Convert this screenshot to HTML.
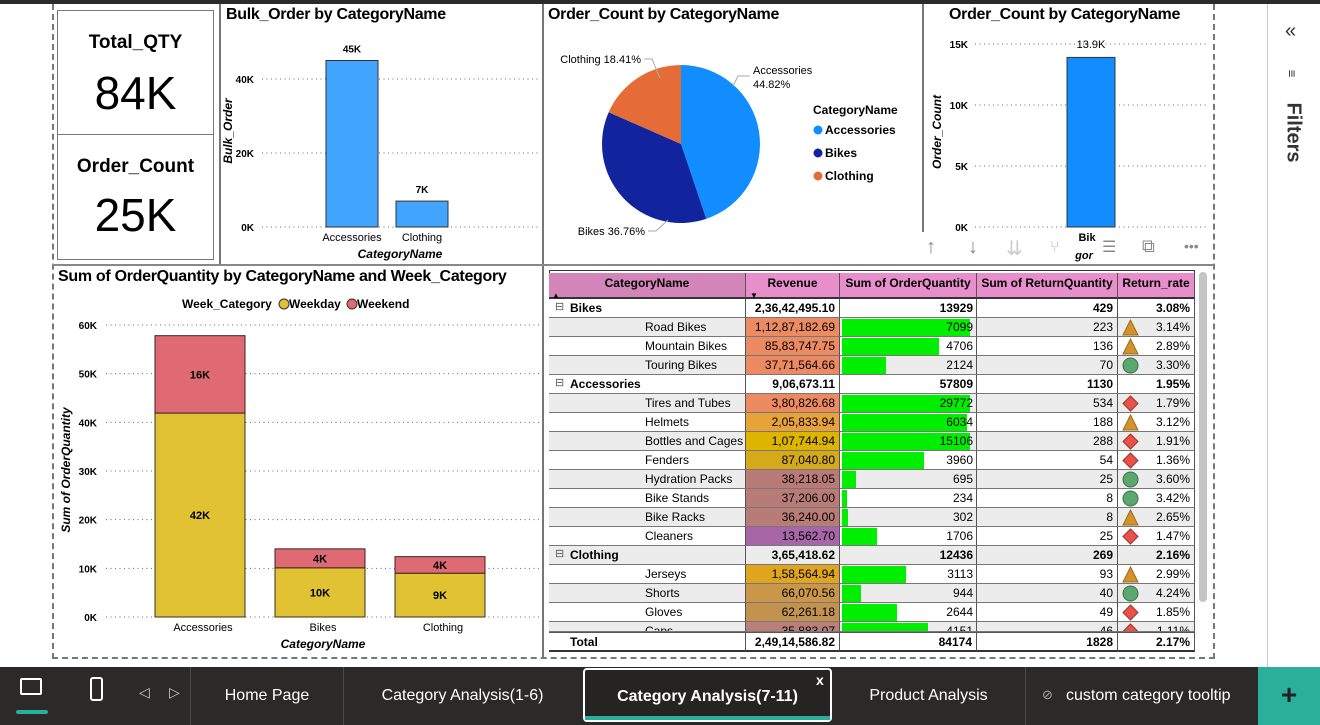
<!DOCTYPE html>
<html><head><meta charset="utf-8">
<style>
*{margin:0;padding:0;box-sizing:border-box}
body{width:1320px;height:725px;overflow:hidden;background:#fff;font-family:"Liberation Sans",sans-serif;position:relative;color:#000}
.abs{position:absolute}
.title{position:absolute;font-weight:bold;font-size:16px;letter-spacing:-0.3px;white-space:nowrap}
svg text{font-family:"Liberation Sans",sans-serif}
.tab{position:absolute;top:667px;height:58px;line-height:58px;color:#fff;font-size:16px;text-align:center;white-space:nowrap}
.sep{position:absolute;top:667px;width:1px;height:58px;background:#4a4a4a}
#tbl div{position:absolute;white-space:nowrap;font-size:12px;line-height:19px}
</style></head><body>
<div class="abs" style="left:0;top:0;width:1320px;height:4px;background:#2b2b2b"></div>
<div class="abs" style="left:52px;top:4px;width:1163px;height:655px;border:2px dashed #777;border-top:none"></div>
<div class="abs" style="left:1267px;top:4px;width:1px;height:663px;background:#c8c8c8"></div>
<div class="abs" style="left:1285px;top:20px;font-size:20px;color:#333">«</div>
<div class="abs" style="left:1288px;top:66px;font-size:13px;color:#333;transform:rotate(90deg)">≡</div>
<div class="abs" style="left:1268px;top:116px;width:50px;font-size:20px;font-weight:bold;color:#333;transform:rotate(90deg);transform-origin:center;text-align:center">Filters</div>

<div class="abs" style="left:57px;top:10px;width:157px;height:250px;border:1px solid #777"></div>
<div class="abs" style="left:57px;top:134px;width:157px;height:1px;background:#777"></div>
<div class="abs" style="left:57px;top:32px;width:157px;text-align:center;font-size:19px;font-weight:bold">Total_QTY</div>
<div class="abs" style="left:57px;top:66px;width:157px;text-align:center;font-size:46px">84K</div>
<div class="abs" style="left:57px;top:156px;width:157px;text-align:center;font-size:19px;font-weight:bold">Order_Count</div>
<div class="abs" style="left:57px;top:188px;width:157px;text-align:center;font-size:46px">25K</div>

<div class="abs" style="left:219px;top:4px;width:2px;height:262px;background:#777"></div>
<div class="abs" style="left:542px;top:4px;width:2px;height:654px;background:#777"></div>
<div class="abs" style="left:922px;top:4px;width:2px;height:228px;background:#777"></div>
<div class="abs" style="left:52px;top:264px;width:1162px;height:2px;background:#888"></div>

<div class="title" style="left:226px;top:6px">Bulk_Order by CategoryName</div>
<div class="title" style="left:548px;top:6px">Order_Count by CategoryName</div>
<div class="title" style="left:949px;top:6px">Order_Count by CategoryName</div>
<div class="title" style="left:58px;top:268px">Sum of OrderQuantity by CategoryName and Week_Category</div>

<svg class="abs" style="left:0;top:0" width="1320" height="667" id="svg"></svg>

<div class="abs" style="left:926px;top:236px;font-size:20px;color:#888;word-spacing:0">
<span class="abs" style="left:0">↑</span>
<span class="abs" style="left:42px">↓</span>
<span class="abs" style="left:80px;color:#ccc">⇊</span>
<span class="abs" style="left:124px;color:#bbb;font-size:16px;top:3px">⑂</span>
<span class="abs" style="left:176px;font-size:16px;top:1px">☰</span>
<span class="abs" style="left:216px;font-size:18px">⧉</span>
<span class="abs" style="left:258px;font-size:14px;top:2px">•••</span>
</div>

<div id="tbl" class="abs" style="left:0;top:0"></div>
<div class="abs" style="left:1199px;top:272px;width:8px;height:330px;background:#c4c4c4;border-radius:4px"></div>

<div class="abs" style="left:0;top:667px;width:1320px;height:58px;background:#2b2a29"></div>
<div class="abs" style="left:20px;top:678px;width:22px;height:17px;border:2px solid #fff;border-radius:2px"></div>
<div class="abs" style="left:16px;top:710px;width:32px;height:4px;background:#2ab09a;border-radius:2px"></div>
<div class="abs" style="left:90px;top:677px;width:13px;height:24px;border:2px solid #fff;border-radius:3px"></div>
<div class="abs" style="left:139px;top:684px;color:#ccc;font-size:14px">◁</div>
<div class="abs" style="left:169px;top:684px;color:#ccc;font-size:14px">▷</div>
<div class="sep" style="left:190px"></div>
<div class="tab" style="left:191px;width:152px">Home Page</div>
<div class="sep" style="left:343px"></div>
<div class="tab" style="left:344px;width:237px">Category Analysis(1-6)</div>
<div class="tab" style="left:583px;width:249px;height:54px;top:668px;line-height:54px;border:2px solid #fff;border-radius:4px;font-weight:bold;background:#252423">Category Analysis(7-11)</div>
<div class="abs" style="left:585px;top:716px;width:245px;height:4px;background:#2ab09a"></div>
<div class="abs" style="left:816px;top:672px;color:#fff;font-size:14px;font-weight:bold">x</div>
<div class="tab" style="left:832px;width:193px">Product Analysis</div>
<div class="sep" style="left:1025px"></div>
<div class="abs" style="left:1042px;top:687px;color:#aaa;font-size:13px">⊘</div>
<div class="tab" style="left:1066px;width:192px;text-align:left">custom category tooltip</div>
<div class="abs" style="left:1258px;top:667px;width:62px;height:58px;background:#2ab09a;color:#222;font-size:28px;font-weight:bold;text-align:center;line-height:56px">+</div>

<script>
const bulkCats = ["Accessories","Clothing"];
const bulkVals = [45,7];
const bulkLabels = ["45K","7K"];
const bulkTicks = [0,20,40];
const pieCats = ["Accessories","Bikes","Clothing"];
const pieShares = [44.82,36.76,18.41];
const pieColors = ["#118DFF","#12239E","#E66C37"];
const ocCats = ["Bikes"];
const ocVals = [13.9];
const ocLabels = ["13.9K"];
const ocTicks = [0,5,10,15];
const stCats = ["Accessories","Bikes","Clothing"];
const stWeekday = [41.9,10.1,9.0];
const stWeekend = [15.9,3.9,3.4];
const stWeekdayLbl = ["42K","10K","9K"];
const stWeekendLbl = ["16K","4K","4K"];
const stTicks = [0,10,20,30,40,50,60];
const tNames = ["Bikes","Road Bikes","Mountain Bikes","Touring Bikes","Accessories","Tires and Tubes","Helmets","Bottles and Cages","Fenders","Hydration Packs","Bike Stands","Bike Racks","Cleaners","Clothing","Jerseys","Shorts","Gloves","Caps"];
const tLevel = [0,1,1,1,0,1,1,1,1,1,1,1,1,0,1,1,1,1];
const tRevenue = ["2,36,42,495.10","1,12,87,182.69","85,83,747.75","37,71,564.66","9,06,673.11","3,80,826.68","2,05,833.94","1,07,744.94","87,040.80","38,218.05","37,206.00","36,240.00","13,562.70","3,65,418.62","1,58,564.94","66,070.56","62,261.18","35,883.07"];
const tRevColor = ["","#EC8A62","#EC8A62","#EC8A62","","#EC8A62","#E8A23A","#DDB400","#D4A91A","#B97B78","#B97B78","#B87C78","#A666A8","","#DFA51E","#C9964A","#C3924E","#B9807A"];
const tQty = [13929,7099,4706,2124,57809,29772,6034,15106,3960,695,234,302,1706,12436,3113,944,2644,4151];
const tRet = [429,223,136,70,1130,534,188,288,54,25,8,8,25,269,93,40,49,46];
const tRate = ["3.08%","3.14%","2.89%","3.30%","1.95%","1.79%","3.12%","1.91%","1.36%","3.60%","3.42%","2.65%","1.47%","2.16%","2.99%","4.24%","1.85%","1.11%"];
const tIcon = ["","tri","tri","cir","","dia","tri","dia","dia","cir","cir","tri","dia","","tri","cir","dia","dia"];
const tTotal = ["Total","2,49,14,586.82","84174","1828","2.17%"];

const NS="http://www.w3.org/2000/svg";
const svg=document.getElementById('svg');
function el(tag,attrs,parent){const e=document.createElementNS(NS,tag);for(const k in attrs)e.setAttribute(k,attrs[k]);(parent||svg).appendChild(e);return e;}
function txt(x,y,s,attrs){const t=el('text',Object.assign({x:x,y:y,'font-size':11},attrs||{}));t.textContent=s;return t;}
const GRID={stroke:'#666','stroke-dasharray':'1,3.5','stroke-width':1};

(function(){
  const y0=227,pxPerK=3.7,yS=v=>y0-v*pxPerK;
  bulkTicks.forEach(t=>{
    const g=el('line',Object.assign({x1:262,x2:540,y1:yS(t),y2:yS(t)},GRID));
    
    const l=txt(254,yS(t)+4,t+'K',{'text-anchor':'end','font-weight':'bold','font-size':10});
    
  });
  const xc=[352,422];
  bulkCats.forEach((c,i)=>{
    const b=el('rect',{x:xc[i]-26,y:yS(bulkVals[i]),width:52,height:bulkVals[i]*pxPerK,fill:'#41A4FF',stroke:'#333','stroke-width':1});
    
    const v=txt(xc[i],yS(bulkVals[i])-8,bulkLabels[i],{'text-anchor':'middle','font-weight':'bold','font-size':10});
    
    const l=txt(xc[i],241,c,{'text-anchor':'middle'});
    
  });
  const xt=txt(400,258,'CategoryName',{'text-anchor':'middle','font-weight':'bold','font-style':'italic','font-size':12});
  
  const yt=txt(0,0,'Bulk_Order',{'text-anchor':'middle','font-weight':'bold','font-style':'italic','font-size':12,transform:'translate(232,131) rotate(-90)'});
  
})();

(function(){
  const cx=681,cy=144,r=79;let a=0;const tot=pieShares.reduce((s,v)=>s+v,0);
  const pt=(ang,rr)=>[cx+rr*Math.sin(ang),cy-rr*Math.cos(ang)];
  pieShares.forEach((v,i)=>{
    const a1=a+v/tot*2*Math.PI;const p0=pt(a,r),p1=pt(a1,r);
    const s=el('path',{d:`M${cx},${cy} L${p0[0]},${p0[1]} A${r},${r} 0 ${a1-a>Math.PI?1:0} 1 ${p1[0]},${p1[1]} Z`,fill:pieColors[i]});
    
    a=a1;
  });
  // label layout: [textX, textY, anchor, leader points]
  const lblPos=[[753,74,'start','733,86 738,76 750,76'],[645,235,'end','668,220 656,231 648,231'],[641,63,'end','660,78 652,59 644,59']];
  pieCats.forEach((c,i)=>{
    const L=lblPos[i];
    const ln=el('polyline',{points:L[3],fill:'none',stroke:'#aaa'});
    
    let t;
    if(i===0){t=txt(L[0],L[1],c,{'font-size':11});const t2=txt(L[0],L[1]+14,pieShares[i].toFixed(2)+'%',{'font-size':11});}
    else t=txt(L[0],L[1],c+' '+pieShares[i].toFixed(2)+'%',{'font-size':11,'text-anchor':'end'});
    
  });
  const lt=txt(813,114,'CategoryName',{'font-size':12,'font-weight':'bold'});
  
  pieCats.forEach((c,i)=>{
    const d=el('circle',{cx:818,cy:130+i*23,r:4.5,fill:pieColors[i]});
    
    const t=txt(825,134+i*23,c,{'font-size':12,'font-weight':'bold'});
    
  });
})();

(function(){
  const y0=227,px=12.2,yS=v=>y0-v*px;
  ocTicks.forEach(t=>{
    const g=el('line',Object.assign({x1:975,x2:1206,y1:yS(t),y2:yS(t)},GRID));
    
    const l=txt(968,yS(t)+4,t+'K',{'text-anchor':'end','font-weight':'bold','font-size':10});
    
  });
  ocCats.forEach((c,i)=>{
    const b=el('rect',{x:1067,y:yS(ocVals[i]),width:48,height:ocVals[i]*px,fill:'#118DFF',stroke:'#333'});
    
    const v=txt(1091,48,ocLabels[i],{'text-anchor':'middle','font-size':11});
    
    const l=txt(1087,241,c.slice(0,3),{'text-anchor':'middle','font-size':11,'font-weight':'bold'});
    
  });
  const g2=txt(1084,259,'gor',{'text-anchor':'middle','font-size':11,'font-weight':'bold','font-style':'italic'});
  
  const yt=txt(0,0,'Order_Count',{'text-anchor':'middle','font-weight':'bold','font-style':'italic','font-size':12,transform:'translate(941,132) rotate(-90)'});
  
})();

(function(){
  const y0=617,px=4.867,yS=v=>y0-v*px;
  stTicks.forEach(t=>{
    const g=el('line',Object.assign({x1:106,x2:540,y1:yS(t),y2:yS(t)},GRID));
    
    const l=txt(97,yS(t)+4,t+'K',{'text-anchor':'end','font-weight':'bold','font-size':10});
    
  });
  stCats.forEach((c,i)=>{
    const xc=200+i*120;
    const wd=el('rect',{x:xc-45,y:yS(stWeekday[i]),width:90,height:stWeekday[i]*px,fill:'#E0C232',stroke:'#3a3020','stroke-width':1});
    
    const we=el('rect',{x:xc-45,y:yS(stWeekday[i]+stWeekend[i]),width:90,height:stWeekend[i]*px,fill:'#DF6A73',stroke:'#3a2020','stroke-width':1});
    
    const l1=txt(xc,yS(stWeekday[i]/2)+4,stWeekdayLbl[i],{'text-anchor':'middle','font-weight':'bold','font-size':11});
    
    const l2=txt(xc,yS(stWeekday[i]+stWeekend[i]/2)+4,stWeekendLbl[i],{'text-anchor':'middle','font-weight':'bold','font-size':11});
    
    const xl=txt(xc+3,631,c,{'text-anchor':'middle','font-size':11});
    
  });
  const xt=txt(323,648,'CategoryName',{'text-anchor':'middle','font-weight':'bold','font-style':'italic','font-size':12});
  
  const yt=txt(0,0,'Sum of OrderQuantity',{'text-anchor':'middle','font-weight':'bold','font-style':'italic','font-size':12,transform:'translate(70,470) rotate(-90)'});
  
  const lg=txt(182,308,'Week_Category',{'font-size':12,'font-weight':'bold'});
  
  [['Weekday','#E0C232',284],['Weekend','#DF6A73',352]].forEach(e=>{
    const c=el('circle',{cx:e[2],cy:304,r:5,fill:e[1],stroke:'#333'});
    
    const t=txt(e[2]+5,308,e[0],{'font-size':12,'font-weight':'bold'});
    
  });
})();

(function(){
  const T=document.getElementById('tbl');
  const cols=[549,746,840,977,1118,1195];
  const top=273,hh=26,rh=19;
  function d(css,html,name,inter){const e=document.createElement('div');e.style.cssText=css;e.innerHTML=html;
    
    
    T.appendChild(e);return e;}
  d(`left:${cols[0]}px;top:${top-3}px;width:${cols[5]-cols[0]}px;height:${652-top+3}px;border:1px solid #333;background:#fff`,'','table-frame',false);
  const heads=["CategoryName","Revenue","Sum of OrderQuantity","Sum of ReturnQuantity","Return_rate"];
  heads.forEach((h,i)=>{
    d(`left:${cols[i]}px;top:${top}px;width:${cols[i+1]-cols[i]}px;height:${hh}px;background:${i==0?'#D384B8':'#E88FCB'};border-right:1px solid #555;border-bottom:2px solid #333;text-align:center;font-weight:bold;line-height:20px;font-size:12px`,h,'column-header-'+h.toLowerCase().replace(/[^a-z]+/g,'-'),true);
  });
  d(`left:552px;top:${top+13}px;font-size:8px`,'▲','sort-indicator',false);
  d(`left:750px;top:${top+13}px;font-size:8px`,'▼','sort-indicator',false);
  const y1=top+hh;
  tNames.forEach((n,r)=>{
    const y=y1+r*rh;const h=Math.min(rh,632-y);if(h<=0)return;
    const bg=r%2?'#ECECEC':'#fff';const b=tLevel[r]==0;const fw=b?'bold':'normal';
    const rowcss=`top:${y}px;height:${h}px;overflow:hidden;border-bottom:1px solid #777;border-right:1px solid #555;font-weight:${fw};`;
    d(`left:${cols[0]}px;width:${cols[1]-cols[0]}px;${rowcss}background:${bg};padding-left:${b?21:96}px`,(b?'<span style="position:absolute;left:6px;top:-1px;font-weight:normal;color:#555;font-size:11px">⊟</span>':'')+n,'row-label-'+n.toLowerCase().replace(/ /g,'-'),b);
    d(`left:${cols[1]}px;width:${cols[2]-cols[1]}px;${rowcss}background:${tRevColor[r]||bg};text-align:right;padding-right:4px`,tRevenue[r],'revenue-cell',false);
    const qc=d(`left:${cols[2]}px;width:${cols[3]-cols[2]}px;${rowcss}background:${bg};text-align:right;padding-right:3px`,'','order-qty-cell',false);
    if(!b){const w=Math.min(tQty[r]/6200,1)*128;const bar=document.createElement('div');
      bar.style.cssText=`left:2px;top:1px;height:17px;width:${w}px;background:#00EE00`;
      
      
      qc.appendChild(bar);}
    const sp=document.createElement('span');sp.style.cssText='position:relative';sp.textContent=tQty[r];qc.appendChild(sp);
    d(`left:${cols[3]}px;width:${cols[4]-cols[3]}px;${rowcss}background:${bg};text-align:right;padding-right:4px`,tRet[r],'return-qty-cell',false);
    let ic='';
    if(tIcon[r]=='tri')ic='<svg style="position:absolute;left:4px;top:1px" width="17" height="17"><polygon points="8.5,1 16,16 1,16" fill="#D4922A" stroke="#9a6a20"/></svg>';
    if(tIcon[r]=='cir')ic='<svg style="position:absolute;left:4px;top:1px" width="17" height="17"><circle cx="8.5" cy="8.5" r="7.5" fill="#5BA86E" stroke="#3c6e48"/></svg>';
    if(tIcon[r]=='dia')ic='<svg style="position:absolute;left:4px;top:1px" width="17" height="17"><polygon points="8.5,1 16,8.5 8.5,16 1,8.5" fill="#E8524A" stroke="#a03028"/></svg>';
    d(`left:${cols[4]}px;width:${cols[5]-cols[4]}px;${rowcss}background:${bg};text-align:right;padding-right:4px`,ic+tRate[r],'return-rate-cell',false);
  });
  tTotal.forEach((v,i)=>{
    d(`left:${cols[i]}px;top:632px;width:${cols[i+1]-cols[i]}px;height:20px;background:#fff;border-top:1px solid #555;border-right:1px solid #555;border-bottom:2px solid #333;font-weight:bold;${i==0?'padding-left:21px':'text-align:right;padding-right:4px'}`,v,i==0?'total-row-label':'total-cell',false);
  });
})();
</script>
</body></html>
